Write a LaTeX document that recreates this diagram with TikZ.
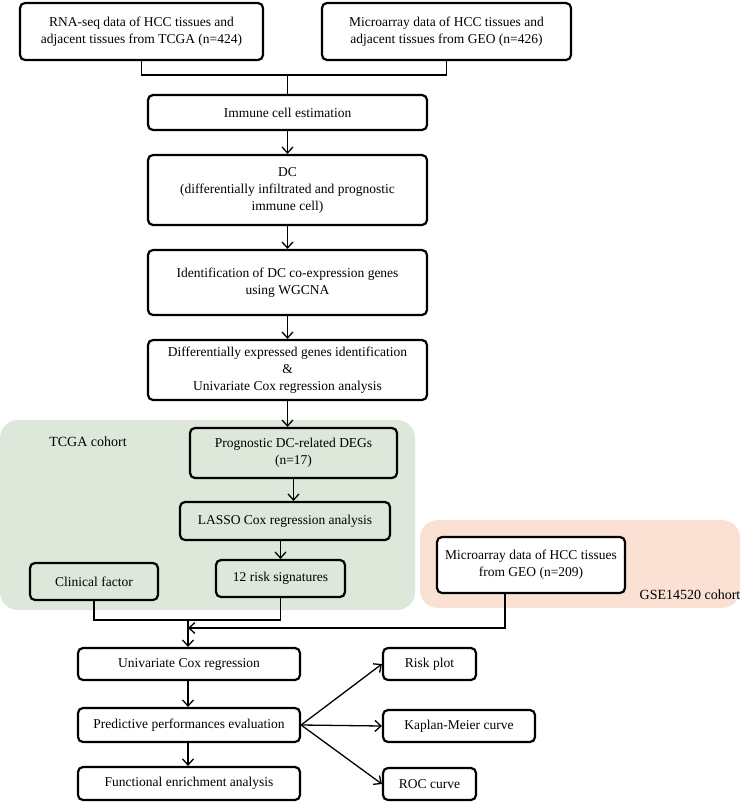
\documentclass[tikz,border=0pt]{standalone}
\usepackage{fontspec}
\setmainfont{Liberation Serif}
\usetikzlibrary{arrows.meta}
\definecolor{grn}{HTML}{DDE7DA}
\definecolor{org}{HTML}{FBE1D3}
\begin{document}
\begin{tikzpicture}[x=1pt,y=-1pt,
 bx/.style={draw,line width=2.2pt,rounded corners=5pt,align=center,font=\fontsize{13.5}{17}\selectfont,inner sep=0pt},
 ln/.style={line width=1.3pt},
 ar/.style={ln,-{Straight Barb[length=6pt,width=11pt,line width=1.3pt]}}]
\useasboundingbox (0,0) rectangle (742,808);
\fill[grn,rounded corners=18pt] (0,420) rectangle (415,610);
\fill[org,rounded corners=18pt] (420,520) rectangle (740,608);
\node[font=\fontsize{14}{17}\selectfont] (tc) at (88,442) {TCGA cohort};
\node[font=\fontsize{14}{17}\selectfont] (gc) at (690,595) {GSE14520 cohort};
\node[bx,minimum width=243,minimum height=57] (b1) at (141.5,31.5) {RNA-seq data of HCC tissues and\\adjacent tissues from TCGA (n=424)};
\node[bx,minimum width=249,minimum height=57] (b2) at (446.5,31.5) {Microarray data of HCC tissues and\\adjacent tissues from GEO (n=426)};
\node[bx,minimum width=279,minimum height=35] (b3) at (287.5,112.5) {Immune cell estimation};
\node[bx,minimum width=279,minimum height=70] (b4) at (287.5,190) {DC\\(differentially infiltrated and prognostic\\immune cell)};
\node[bx,minimum width=279,minimum height=65] (b5) at (287.5,282.5) {Identification of DC co-expression genes\\using WGCNA};
\node[bx,minimum width=279,minimum height=60] (b6) at (287.5,370) {Differentially expressed genes identification\\\&\\Univariate Cox regression analysis};
\node[bx,fill=grn,minimum width=207,minimum height=50] (b7) at (293.5,453) {Prognostic DC-related DEGs\\(n=17)};
\node[bx,fill=grn,minimum width=210,minimum height=38] (b8) at (285,521) {LASSO Cox regression analysis};
\node[bx,fill=grn,minimum width=129,minimum height=37] (b9) at (280.5,578.5) {12 risk signatures};
\node[bx,fill=grn,minimum width=128,minimum height=37] (cf) at (94,581.5) {Clinical factor};
\node[bx,fill=white,minimum width=188,minimum height=56] (mg) at (531,565) {Microarray data of HCC tissues\\from GEO (n=209)};
\node[bx,minimum width=222,minimum height=32] (u) at (189,664) {Univariate Cox regression};
\node[bx,minimum width=222,minimum height=34] (p) at (189,725) {Predictive performances evaluation};
\node[bx,minimum width=222,minimum height=33] (f) at (189,783.5) {Functional enrichment analysis};
\node[bx,minimum width=93,minimum height=32] (r) at (429.5,664) {Risk plot};
\node[bx,minimum width=152,minimum height=32] (k) at (459,726) {Kaplan-Meier curve};
\node[bx,minimum width=93,minimum height=32] (roc) at (429.5,784) {ROC curve};
\coordinate (j1) at (287.5,75);
\draw[ln] (b1.south) |- (j1) -| (b2.south);
\draw[ln] (j1) -- (b3.north);
\draw[ar] (b3) -- (b4);
\draw[ar] (b4) -- (b5);
\draw[ar] (b5) -- (b6);
\draw[ar] (b6.south) -- (b6.south|-b7.north);
\draw[ar] (b7.south) -- (b7.south|-b8.north);
\draw[ar] (b8.south-|b9.north) -- (b9.north);
\coordinate (j2) at (188,620);
\coordinate (j3) at (188,628);
\draw[ln] (cf.south) |- (j2) -| (b9.south);
\draw[ar] (j2) -- (u.north-|j2);
\draw[ar] (mg.south-|505,0) |- (j3);
\draw[ar] (u.south-|j2) -- (p.north-|j2);
\draw[ar] (p.south-|j2) -- (f.north-|j2);
\draw[ar] (p.east) -- (r.west);
\draw[ar] (p.east) -- (k.west);
\draw[ar] (p.east) -- (roc.west);
\end{tikzpicture}
\end{document}
